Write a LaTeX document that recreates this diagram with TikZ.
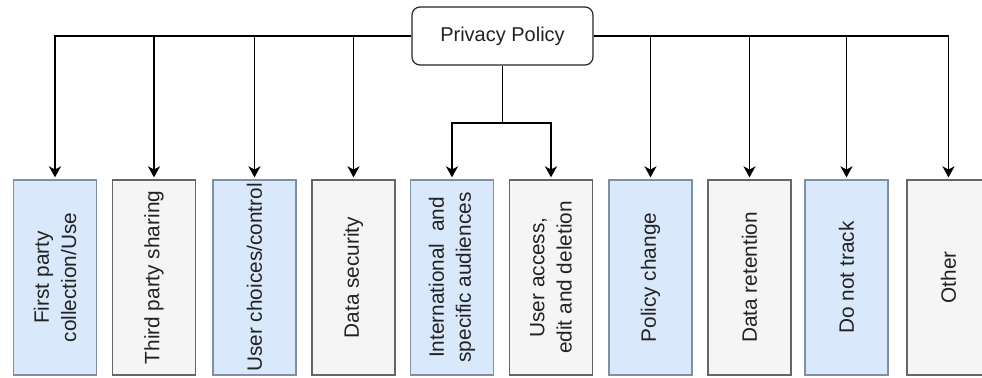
\documentclass[tikz,border=0pt]{standalone}
\usepackage{fontspec}
\setmainfont{Liberation Sans}
\usetikzlibrary{arrows.meta}
\definecolor{bluefill}{HTML}{DAE8FC}
\definecolor{bluedraw}{HTML}{7F8FA6}
\definecolor{grayfill}{HTML}{F5F5F5}
\definecolor{graydraw}{HTML}{666666}
\definecolor{txt}{HTML}{222222}
\tikzset{
  conn/.style={line width=0.9pt, draw=black, -{Stealth[length=5.5pt,width=6pt,inset=1.6pt]}},
  trunk/.style={line width=0.9pt, draw=black},
  rootbox/.style={draw=black!85, line width=0.6pt, rounded corners=4pt, fill=white,
    minimum width=90.5pt, minimum height=29pt, inner sep=0pt,
    font=\fontsize{10pt}{12pt}\selectfont, text=txt},
  catbox/.style={line width=0.65pt, minimum width=41.5pt, minimum height=97.5pt, inner sep=0pt},
  bluebox/.style={catbox, draw=bluedraw, fill=bluefill},
  graybox/.style={catbox, draw=graydraw, fill=grayfill},
  lbl/.style={rotate=90, align=center, inner sep=0pt, text=txt,
    font=\fontsize{10.4pt}{13.6pt}\selectfont}
}
\begin{document}
\begin{tikzpicture}[x=0.5pt,y=-0.5pt]
\useasboundingbox (0,0) rectangle (982,377);
\clip (0,0) rectangle (982,377);
\node[rootbox] (root) at (502.5,36) {Privacy Policy};
\node[bluebox] (b1) at (55,277.5) {};
\node[graybox] (b2) at (154,277.5) {};
\node[bluebox] (b3) at (254.5,277.5) {};
\node[graybox] (b4) at (353.5,277.5) {};
\node[bluebox] (b5) at (452,277.5) {};
\node[graybox] (b6) at (551,277.5) {};
\node[bluebox] (b7) at (650.5,277.5) {};
\node[graybox] (b8) at (749.5,277.5) {};
\node[bluebox] (b9) at (846.5,277.5) {};
\node[graybox] (b10) at (948.5,277.5) {};
\node[lbl] (t1) at (b1) {First party\\collection/Use};
\node[lbl] (t2) at (b2) {Third party sharing};
\node[lbl] (t3) at (b3) {User choices/control};
\node[lbl] (t4) at (b4) {Data security};
\node[lbl] (t5) at (b5) {International\ \ and\\specific audiences};
\node[lbl] (t6) at (b6) {User access,\\edit and deletion};
\node[lbl] (t7) at (b7) {Policy change};
\node[lbl] (t8) at (b8) {Data retention};
\node[lbl] (t9) at (b9) {Do not track};
\node[lbl] (t10) at (b10) {Other};
\coordinate (mid) at (502.5,123);
\foreach \b in {b1,b2,b3,b4}{
  \draw[conn] (root.west) -| ([yshift=1pt]\b.north);
}
\foreach \b in {b7,b8,b9,b10}{
  \draw[conn] (root.east) -| ([yshift=1pt]\b.north);
}
\draw[trunk] (root.south) -- (mid);
\draw[conn] (mid) -| ([yshift=1pt]b5.north);
\draw[conn] (mid) -| ([yshift=1pt]b6.north);
\end{tikzpicture}
\end{document}
